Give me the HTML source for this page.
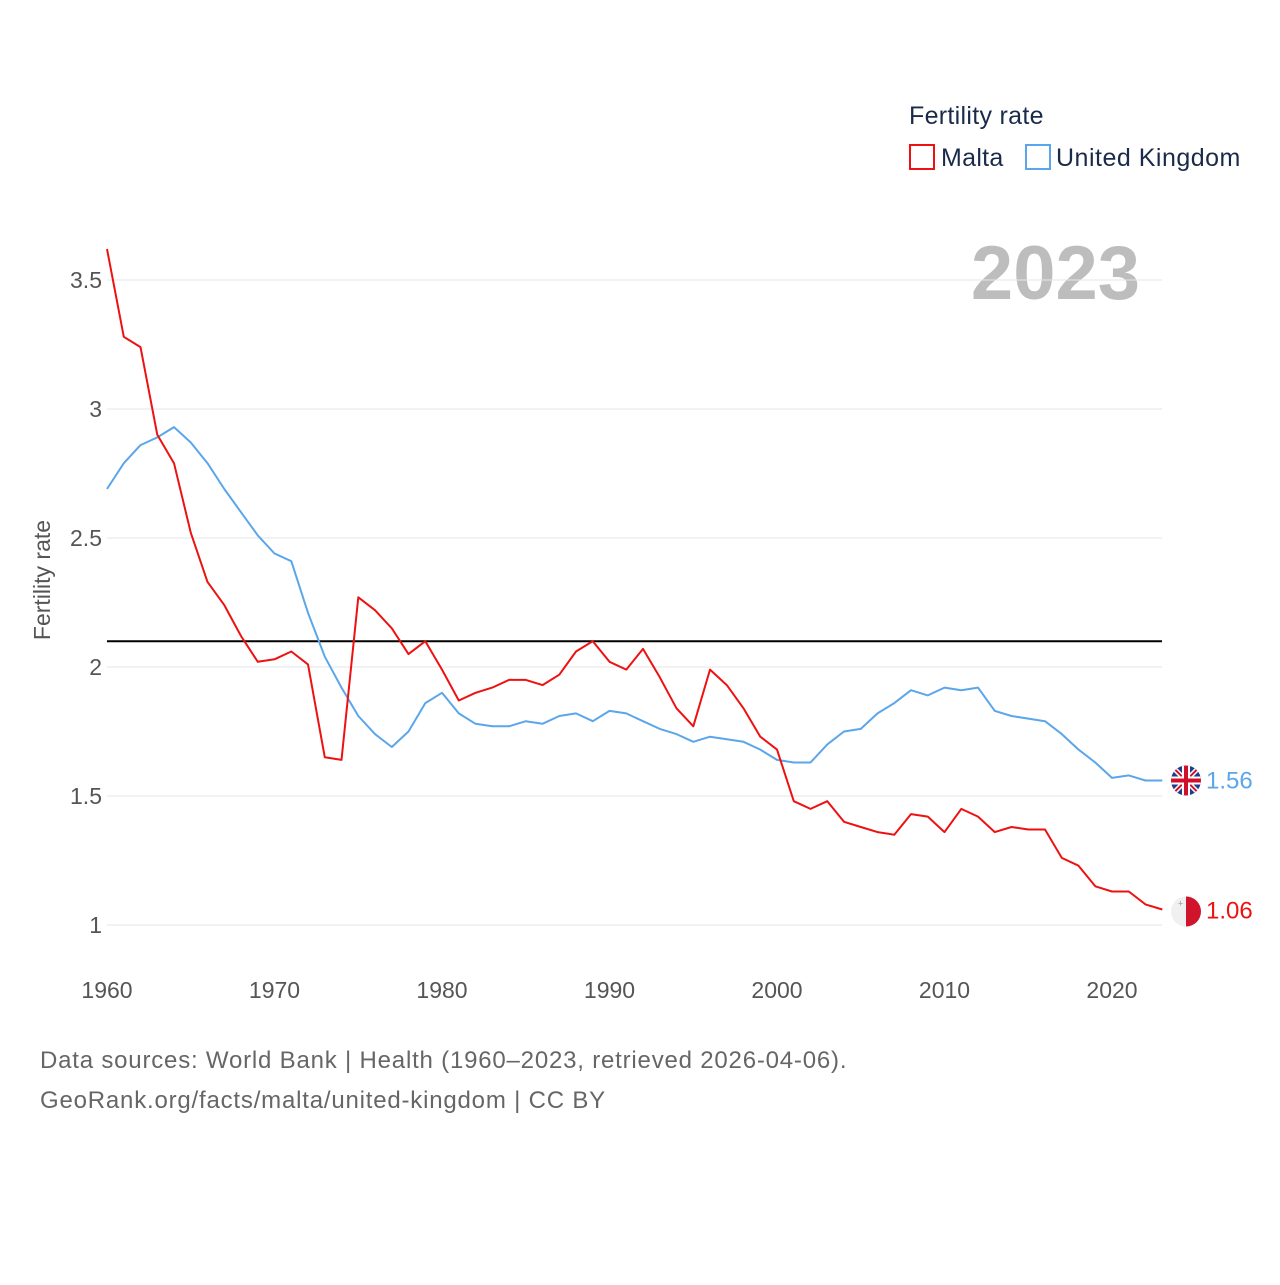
<!DOCTYPE html>
<html><head><meta charset="utf-8"><style>
body{margin:0;background:#fff;font-family:"Liberation Sans",sans-serif}
svg text{font-family:"Liberation Sans",sans-serif}
</style></head><body>
<svg id="chart" width="1280" height="1280" viewBox="0 0 1280 1280">
<text x="909" y="124" font-size="25" fill="#1a2b4a" letter-spacing="0.3">Fertility rate</text>
<g><rect x="910" y="145" width="24" height="24" fill="none" stroke="#ee1111" stroke-width="2"/><text x="941" y="166" font-size="25" fill="#1a2b4a" letter-spacing="0.3">Malta</text></g>
<g><rect x="1026" y="145" width="24" height="24" fill="none" stroke="#5ba6ea" stroke-width="2"/><text x="1056" y="166" font-size="25" fill="#1a2b4a" letter-spacing="0.5">United Kingdom</text></g>
<text x="1140" y="299" font-size="76" font-weight="bold" fill="#bdbdbd" text-anchor="end">2023</text>
<text transform="translate(50,580) rotate(-90)" font-size="23" fill="#555" text-anchor="middle">Fertility rate</text>
<g id="grid"></g><g id="lines"></g>
<text x="40" y="1068" font-size="24" fill="#666" letter-spacing="0.8">Data sources: World Bank | Health (1960–2023, retrieved 2026-04-06).</text>
<text x="40" y="1108" font-size="24" fill="#666" letter-spacing="0.8">GeoRank.org/facts/malta/united-kingdom | CC BY</text>
</svg>
<script>
const years=[];for(let i=1960;i<=2023;i++)years.push(i);
const maltaVals=[3.62,3.28,3.24,2.90,2.79,2.52,2.33,2.24,2.12,2.02,2.03,2.06,2.01,1.65,1.64,2.27,2.22,2.15,2.05,2.10,1.99,1.87,1.90,1.92,1.95,1.95,1.93,1.97,2.06,2.10,2.02,1.99,2.07,1.96,1.84,1.77,1.99,1.93,1.84,1.73,1.68,1.48,1.45,1.48,1.40,1.38,1.36,1.35,1.43,1.42,1.36,1.45,1.42,1.36,1.38,1.37,1.37,1.26,1.23,1.15,1.13,1.13,1.08,1.06];
const ukVals=[2.69,2.79,2.86,2.89,2.93,2.87,2.79,2.69,2.60,2.51,2.44,2.41,2.21,2.04,1.92,1.81,1.74,1.69,1.75,1.86,1.90,1.82,1.78,1.77,1.77,1.79,1.78,1.81,1.82,1.79,1.83,1.82,1.79,1.76,1.74,1.71,1.73,1.72,1.71,1.68,1.64,1.63,1.63,1.70,1.75,1.76,1.82,1.86,1.91,1.89,1.92,1.91,1.92,1.83,1.81,1.80,1.79,1.74,1.68,1.63,1.57,1.58,1.56,1.56];
const yTicks=[1,1.5,2,2.5,3,3.5];
const yTickLabels=["1","1.5","2","2.5","3","3.5"];
const xTicks=[1960,1970,1980,1990,2000,2010,2020];
const refValue=2.1;
const NS="http://www.w3.org/2000/svg";
const x=yr=>107+(yr-1960)*16.75;
const y=v=>925-(v-1)*258;
function mk(t,a,p){const e=document.createElementNS(NS,t);for(const k in a)e.setAttribute(k,a[k]);p.appendChild(e);return e;}
const grid=document.getElementById('grid'),lines=document.getElementById('lines');
yTicks.forEach((v,i)=>{
 const l=mk('line',{x1:107,x2:1162,y1:y(v),y2:y(v),stroke:'#e6e6e6','stroke-width':1},grid);
 
 
 const t=mk('text',{x:102,y:y(v)+8,'font-size':23,fill:'#555','text-anchor':'end'},grid);t.textContent=yTickLabels[i];
 
 
});
xTicks.forEach(yr=>{
 const t=mk('text',{x:x(yr),y:998,'font-size':23,fill:'#555','text-anchor':'middle'},grid);t.textContent=yr;
 
 
});
const ref=mk('line',{x1:107,x2:1162,y1:y(refValue),y2:y(refValue),stroke:'#000','stroke-width':2},lines);


function series(vals,color,name){
 const p=mk('path',{d:vals.map((v,i)=>(i?'L':'M')+x(years[i]).toFixed(1)+','+y(v).toFixed(1)).join(''),fill:'none',stroke:color,'stroke-width':2,'stroke-linejoin':'round'},lines);
 
 
}
series(ukVals,'#5ba6ea','uk-line');
series(maltaVals,'#ee1111','malta-line');
const ux=1186,uy=y(ukVals[ukVals.length-1]);
const ug=mk('g',{},lines);


const cp=mk('clipPath',{id:'cu'},ug);
mk('circle',{cx:ux,cy:uy,r:15},cp);
const uc=mk('g',{'clip-path':'url(#cu)'},ug);
mk('rect',{x:ux-15,y:uy-15,width:30,height:30,fill:'#1f3d8a'},uc);
mk('path',{d:`M${ux-15},${uy-15}L${ux+15},${uy+15}M${ux+15},${uy-15}L${ux-15},${uy+15}`,stroke:'#fff','stroke-width':5},uc);
mk('path',{d:`M${ux-15},${uy-15}L${ux+15},${uy+15}M${ux+15},${uy-15}L${ux-15},${uy+15}`,stroke:'#d0102a','stroke-width':2},uc);
mk('path',{d:`M${ux},${uy-15}V${uy+15}M${ux-15},${uy}H${ux+15}`,stroke:'#fff','stroke-width':8},uc);
mk('path',{d:`M${ux},${uy-15}V${uy+15}M${ux-15},${uy}H${ux+15}`,stroke:'#d0102a','stroke-width':4},uc);
const ut=mk('text',{x:1206,y:uy+8,'font-size':24,fill:'#5ba6ea'},lines);ut.textContent=ukVals[ukVals.length-1].toFixed(2);


const mx=1186,my=y(maltaVals[maltaVals.length-1])+2;
const mg=mk('g',{},lines);


mk('circle',{cx:mx,cy:my,r:15,fill:'#f0f0f0'},mg);
mk('path',{d:`M${mx},${my-15}A15,15 0 0 1 ${mx},${my+15}Z`,fill:'#cf142b'},mg);
mk('text',{x:mx-8,y:my-5,'font-size':9,fill:'#999'},mg).textContent='+';
const mt=mk('text',{x:1206,y:my+7,'font-size':24,fill:'#ee1111'},lines);mt.textContent=maltaVals[maltaVals.length-1].toFixed(2);


</script>
</body></html>
